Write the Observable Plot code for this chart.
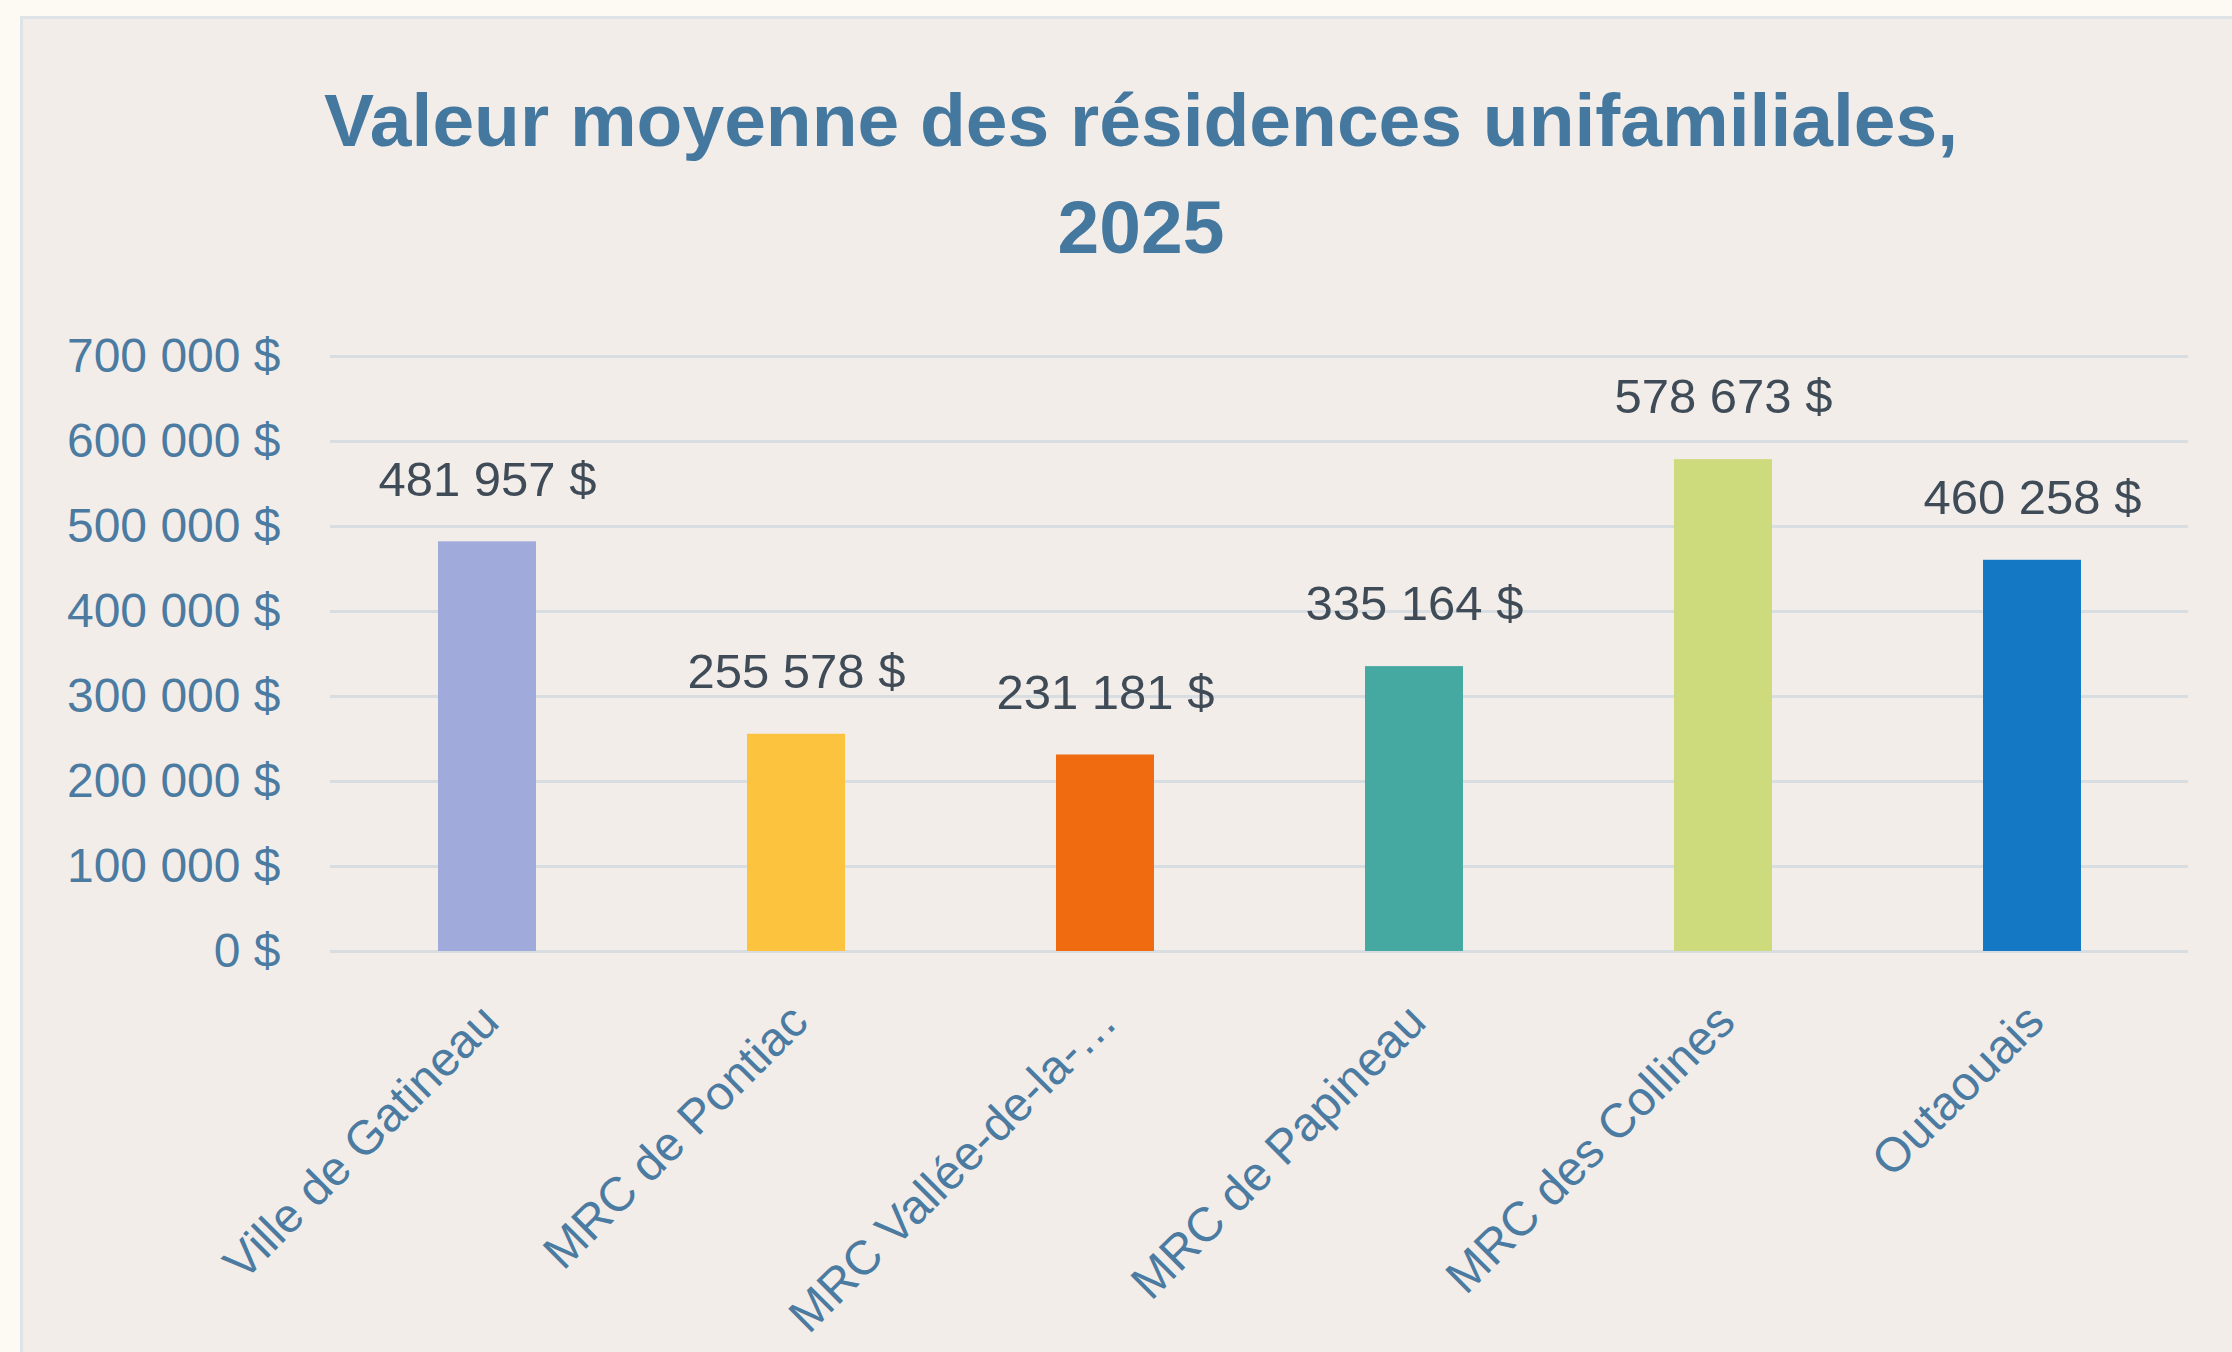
<!DOCTYPE html>
<html>
<head>
<meta charset="utf-8">
<script src="https://cdn.jsdelivr.net/npm/d3@7"></script>
<script src="https://cdn.jsdelivr.net/npm/@observablehq/plot@0.6"></script>
<style>
  html, body { margin: 0; padding: 0; background: #fdfaf3; }
  body { width: 2232px; height: 1352px; overflow: hidden; position: relative; font-family: "Liberation Sans", Arial, sans-serif; }
  #panel {
    position: absolute; left: 20px; top: 16px; width: 2240px; height: 1360px;
    background: #f3edea; border-left: 3px solid #dde3e7; border-top: 3px solid #dde3e7;
    box-sizing: border-box;
  }
  #title {
    height: 277px; box-sizing: border-box; padding-top: 48px;
    width: 2212px;
    font-family: "Liberation Sans", Arial, sans-serif; font-weight: bold; font-size: 75px;
    line-height: 107px; color: #45789f; text-align: center;
    position: relative; left: 12px;
  }
  #chart { position: absolute; left: -3px; top: 277px; }
</style>
</head>
<body>
<div id="panel">
  <div id="title">Valeur moyenne des résidences unifamiliales,<br>2025</div>
  <div id="chart"></div>
</div>
<script>
const categories = ["Ville de Gatineau", "MRC de Pontiac", "MRC Vallée-de-la-…", "MRC de Papineau", "MRC des Collines", "Outaouais"];
const values = [481957, 255578, 231181, 335164, 578673, 460258];
const palette = ["#a0aadb", "#fcc33e", "#f06a10", "#45a9a1", "#cedb7d", "#1478c4"];
const yTicks = [0, 100000, 200000, 300000, 400000, 500000, 600000, 700000];

const data = categories.map((c, i) => ({category: c, value: values[i]}));

const locale = d3.formatLocale({decimal: ",", thousands: "\u00a0", grouping: [3], currency: ["", "\u00a0$"]});
const fmt = locale.format("$,.0f");

const chart = Plot.plot({
  width: 2212,
  height: 1059,
  marginLeft: 310,
  marginRight: 44,
  marginTop: 60,
  marginBottom: 404,
  style: {background: "transparent", fontFamily: "'Liberation Sans', Arial, sans-serif"},
  x: {domain: categories, paddingInner: 0.684, paddingOuter: 0.342, axis: null},
  y: {domain: [0, 700000], axis: null},
  color: {domain: categories, range: palette},
  marks: [
    Plot.gridY(yTicks, {stroke: "#d8dde1", strokeOpacity: 1, strokeWidth: 3}),
    Plot.axisY(yTicks, {tickSize: 0, tickPadding: 50, tickFormat: fmt, fontSize: 48, fill: "#4b7ba1", label: null}),
    Plot.barY(data, {x: "category", y: "value", fill: "category"}),
    Plot.text(data, {x: "category", y: "value", text: d => fmt(d.value), dy: -62, fontSize: 49, fill: "#3f4b57"}),
    Plot.text(categories, {x: d => d, text: d => d, frameAnchor: "bottom", rotate: -45, textAnchor: "end", lineAnchor: "middle", dx: 3, dy: 62, fontSize: 48, fill: "#4b7ba1"})
  ]
});
document.getElementById("chart").appendChild(chart);
</script>
</body>
</html>
